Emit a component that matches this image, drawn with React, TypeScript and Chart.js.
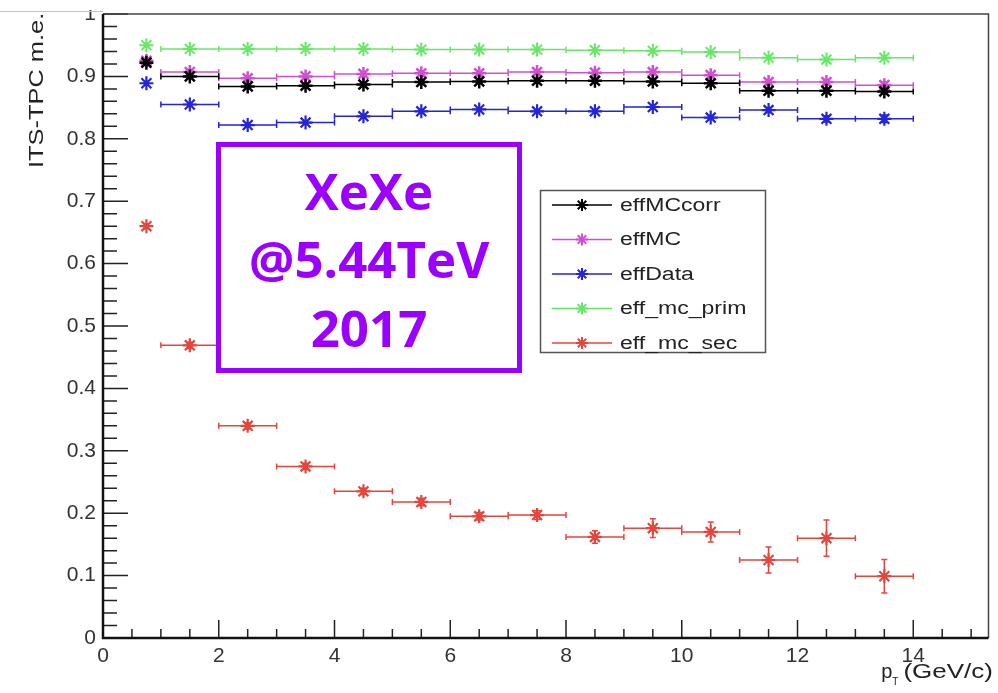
import React, { useEffect, useRef } from 'react';
import { Chart, registerables } from 'chart.js';

Chart.register(...registerables);

// pT bins (GeV/c): centres and half widths
const BIN_CENTERS = [0.75, 1.5, 2.5, 3.5, 4.5, 5.5, 6.5, 7.5, 8.5, 9.5, 10.5, 11.5, 12.5, 13.5];
const BIN_HALF_WIDTHS = [0, 0.5, 0.5, 0.5, 0.5, 0.5, 0.5, 0.5, 0.5, 0.5, 0.5, 0.5, 0.5, 0.5];

// ITS-TPC matching efficiency per bin
const EFF_MC_CORR = [0.922, 0.9, 0.884, 0.885, 0.887, 0.891, 0.892, 0.893, 0.893, 0.892, 0.889, 0.877, 0.877, 0.876];
const EFF_MC = [0.925, 0.907, 0.897, 0.9, 0.904, 0.905, 0.905, 0.907, 0.906, 0.907, 0.902, 0.891, 0.891, 0.886];
const EFF_DATA = [0.889, 0.855, 0.822, 0.826, 0.836, 0.844, 0.847, 0.844, 0.844, 0.851, 0.834, 0.846, 0.832, 0.832];
const EFF_MC_PRIM = [0.95, 0.944, 0.944, 0.944, 0.944, 0.943, 0.943, 0.943, 0.942, 0.941, 0.939, 0.93, 0.927, 0.93];
const EFF_MC_SEC = [0.66, 0.469, 0.34, 0.275, 0.235, 0.218, 0.195, 0.197, 0.162, 0.176, 0.17, 0.125, 0.16, 0.099];

// statistical uncertainties
const EFF_MC_CORR_ERR = [0, 0, 0, 0, 0, 0, 0, 0, 0, 0, 0, 0.003, 0.003, 0.004];
const EFF_MC_ERR = [0, 0, 0, 0, 0, 0, 0, 0, 0, 0, 0, 0.004, 0.004, 0.005];
const EFF_DATA_ERR = [0, 0, 0, 0, 0, 0, 0, 0, 0, 0, 0, 0.004, 0.005, 0.006];
const EFF_MC_PRIM_ERR = [0, 0, 0, 0, 0, 0, 0, 0, 0, 0, 0, 0, 0, 0];
const EFF_MC_SEC_ERR = [0.004, 0.005, 0.005, 0.005, 0.005, 0.006, 0.006, 0.007, 0.01, 0.015, 0.016, 0.021, 0.029, 0.027];

const SERIES_NAMES = ['effMCcorr', 'effMC', 'effData', 'eff_mc_prim', 'eff_mc_sec'];
const SERIES_COLORS = ['#000000', '#d24fd2', '#2424d8', '#66e866', '#e5463c'];
const SERIES_MARKER_WIDTHS = [2.5, 2.5, 2.2, 2, 2.2];

const X_TICK_VALUES = [0, 2, 4, 6, 8, 10, 12, 14];
const Y_TICK_VALUES = [0, 0.1, 0.2, 0.3, 0.4, 0.5, 0.6, 0.7, 0.8, 0.9, 1];

const Y_TITLE = 'ITS-TPC m.e.';
const X_TITLE_MAIN = 'p';
const X_TITLE_SUB = 'T';
const X_TITLE_UNIT = '(GeV/c)';
const ANNOTATION_LINES = ['XeXe', '@5.44TeV', '2017'];

const X_MIN = 0;
const X_MAX = 15.3;
const Y_MIN = 0;
const Y_MAX = 1;

const VALUES = [EFF_MC_CORR, EFF_MC, EFF_DATA, EFF_MC_PRIM, EFF_MC_SEC];
const ERRORS = [EFF_MC_CORR_ERR, EFF_MC_ERR, EFF_DATA_ERR, EFF_MC_PRIM_ERR, EFF_MC_SEC_ERR];

const ROOT_FONT = '"Liberation Sans", Arial, sans-serif';
const ANNOTATION_COLOR = '#9b00ff';

function drawStar(ctx: CanvasRenderingContext2D, x: number, y: number, r: number, color: string, width: number) {
  const d = r * Math.SQRT1_2;
  ctx.save();
  ctx.strokeStyle = color;
  ctx.lineWidth = width;
  ctx.beginPath();
  ctx.moveTo(x - r, y);
  ctx.lineTo(x + r, y);
  ctx.moveTo(x, y - r);
  ctx.lineTo(x, y + r);
  ctx.moveTo(x - d, y - d);
  ctx.lineTo(x + d, y + d);
  ctx.moveTo(x - d, y + d);
  ctx.lineTo(x + d, y - d);
  ctx.stroke();
  ctx.restore();
}

// Horizontal bin-width bars and vertical error bars, ROOT "E1" style with end caps
const errorBarPlugin = {
  id: 'errorBars',
  beforeDatasetsDraw(chart: any) {
    const ctx: CanvasRenderingContext2D = chart.ctx;
    const xs = chart.scales.x;
    const ys = chart.scales.y;
    const cap = 3;
    ctx.save();
    ctx.lineWidth = 1.5;
    for (let s = VALUES.length - 1; s >= 0; s--) {
      ctx.strokeStyle = SERIES_COLORS[s];
      ctx.beginPath();
      BIN_CENTERS.forEach((x, i) => {
        const y = VALUES[s][i];
        const py = ys.getPixelForValue(y);
        const hw = BIN_HALF_WIDTHS[i];
        if (hw > 0) {
          const x0 = xs.getPixelForValue(x - hw);
          const x1 = xs.getPixelForValue(x + hw);
          ctx.moveTo(x0, py);
          ctx.lineTo(x1, py);
          ctx.moveTo(x0, py - cap);
          ctx.lineTo(x0, py + cap);
          ctx.moveTo(x1, py - cap);
          ctx.lineTo(x1, py + cap);
        }
        const e = ERRORS[s][i];
        if (e > 0) {
          const px = xs.getPixelForValue(x);
          const y0 = ys.getPixelForValue(y - e);
          const y1 = ys.getPixelForValue(y + e);
          ctx.moveTo(px, y0);
          ctx.lineTo(px, y1);
          ctx.moveTo(px - cap, y0);
          ctx.lineTo(px + cap, y0);
          ctx.moveTo(px - cap, y1);
          ctx.lineTo(px + cap, y1);
        }
      });
      ctx.stroke();
    }
    ctx.restore();
  },
};

// Frame, inward tick marks, titles, legend box and the collision-system label
const decorationsPlugin = {
  id: 'rootDecorations',
  afterDraw(chart: any) {
    const ctx: CanvasRenderingContext2D = chart.ctx;
    const area = chart.chartArea;
    const xs = chart.scales.x;
    const ys = chart.scales.y;
    ctx.save();

    // tick marks drawn inside the frame
    ctx.strokeStyle = '#222';
    ctx.lineWidth = 1.5;
    ctx.beginPath();
    for (let k = 0; k * 0.5 <= X_MAX; k++) {
      const v = k * 0.5;
      const px = xs.getPixelForValue(v);
      const len = k % 4 === 0 ? 18 : 9;
      ctx.moveTo(px, area.bottom);
      ctx.lineTo(px, area.bottom - len);
    }
    for (let k = 0; k <= 50; k++) {
      const v = k * 0.02;
      const py = ys.getPixelForValue(v);
      const len = k % 5 === 0 ? 25 : 14;
      ctx.moveTo(area.left, py);
      ctx.lineTo(area.left + len, py);
    }
    ctx.stroke();

    // frame
    ctx.strokeStyle = '#444';
    ctx.lineWidth = 1.5;
    ctx.beginPath();
    ctx.moveTo(area.left, area.top);
    ctx.lineTo(area.right, area.top);
    ctx.lineTo(area.right, area.bottom);
    ctx.stroke();
    ctx.strokeStyle = '#111';
    ctx.lineWidth = 2.5;
    ctx.beginPath();
    ctx.moveTo(area.left, area.top);
    ctx.lineTo(area.left, area.bottom);
    ctx.lineTo(area.right, area.bottom);
    ctx.stroke();

    // y-axis title, aligned to the top end of the axis
    ctx.fillStyle = '#222';
    ctx.save();
    ctx.translate(43, 168);
    ctx.rotate(-Math.PI / 2);
    ctx.scale(1.21, 1);
    ctx.font = `21px ${ROOT_FONT}`;
    ctx.textAlign = 'left';
    ctx.textBaseline = 'alphabetic';
    ctx.fillText(Y_TITLE, 0, 0);
    ctx.restore();

    // x-axis title, right aligned
    ctx.save();
    ctx.font = `20px ${ROOT_FONT}`;
    ctx.textBaseline = 'alphabetic';
    const unitW = ctx.measureText(X_TITLE_UNIT).width * 1.3;
    const unitX = 993 - unitW;
    ctx.save();
    ctx.translate(unitX, 678);
    ctx.scale(1.3, 1);
    ctx.fillText(X_TITLE_UNIT, 0, 0);
    ctx.restore();
    ctx.font = `10px ${ROOT_FONT}`;
    const subW = ctx.measureText(X_TITLE_SUB).width;
    const subX = unitX - 5 - subW;
    ctx.fillText(X_TITLE_SUB, subX, 685);
    ctx.font = `20px ${ROOT_FONT}`;
    const pW = ctx.measureText(X_TITLE_MAIN).width;
    ctx.fillText(X_TITLE_MAIN, subX - pW, 678);
    ctx.restore();

    // legend
    const lx = 540;
    const ly = 190;
    const lw = 225;
    const lh = 162;
    ctx.fillStyle = '#ffffff';
    ctx.fillRect(lx, ly, lw, lh);
    ctx.strokeStyle = '#555';
    ctx.lineWidth = 1.5;
    ctx.strokeRect(lx + 0.5, ly + 0.5, lw, lh);
    SERIES_NAMES.forEach((name, i) => {
      const ey = 205 + i * 34.5;
      ctx.strokeStyle = SERIES_COLORS[i];
      ctx.lineWidth = 1.5;
      ctx.beginPath();
      ctx.moveTo(552, ey);
      ctx.lineTo(612, ey);
      ctx.stroke();
      drawStar(ctx, 582, ey, 6, SERIES_COLORS[i], 2);
      ctx.save();
      ctx.translate(620, ey);
      ctx.scale(1.28, 1);
      ctx.fillStyle = '#222';
      ctx.font = `18px ${ROOT_FONT}`;
      ctx.textAlign = 'left';
      ctx.textBaseline = 'middle';
      ctx.fillText(name, 0, 1);
      ctx.restore();
    });

    // collision system label
    ctx.strokeStyle = ANNOTATION_COLOR;
    ctx.lineWidth = 5;
    ctx.strokeRect(218.5, 144.5, 301, 226);
    ctx.fillStyle = ANNOTATION_COLOR;
    ctx.font = `bold 51px "Open Sans", sans-serif`;
    ctx.textAlign = 'center';
    ctx.textBaseline = 'alphabetic';
    const baselines = [210, 278, 347];
    ANNOTATION_LINES.forEach((line, i) => {
      ctx.fillText(line, 369, baselines[i]);
    });

    // page edge above the frame
    ctx.fillStyle = '#ffffff';
    ctx.fillRect(0, 0, chart.width, 10);
    ctx.strokeStyle = '#c4c4c4';
    ctx.lineWidth = 1;
    ctx.beginPath();
    ctx.moveTo(0, 11.5);
    ctx.lineTo(area.left, 11.5);
    ctx.stroke();

    ctx.restore();
  },
};

export default function App() {
  const canvasRef = useRef<HTMLCanvasElement | null>(null);

  useEffect(() => {
    const canvas = canvasRef.current;
    if (!canvas) return;

    const datasets = SERIES_NAMES.map((name, s) => ({
      label: name,
      data: BIN_CENTERS.map((x, i) => ({ x, y: VALUES[s][i] })),
      borderColor: SERIES_COLORS[s],
      backgroundColor: SERIES_COLORS[s],
      pointStyle: 'star' as const,
      pointRadius: 7,
      pointBorderWidth: SERIES_MARKER_WIDTHS[s],
      pointHoverRadius: 7,
      showLine: false,
    }));

    const tickFont = { family: ROOT_FONT, size: 21 };

    const chart = new Chart(canvas, {
      type: 'scatter',
      data: { datasets },
      options: {
        animation: false,
        responsive: false,
        maintainAspectRatio: false,
        devicePixelRatio: 1,
        layout: { padding: { top: 14, right: 7, left: 0, bottom: 0 } },
        plugins: {
          legend: { display: false },
          tooltip: { enabled: false },
        },
        scales: {
          x: {
            type: 'linear',
            min: X_MIN,
            max: X_MAX,
            grid: { display: false, drawTicks: false },
            border: { display: false },
            afterBuildTicks: (scale: any) => {
              scale.ticks = X_TICK_VALUES.map((value) => ({ value }));
            },
            afterFit: (scale: any) => {
              scale.height = 55;
              scale.paddingLeft = 0;
              scale.paddingRight = 0;
            },
            ticks: {
              autoSkip: false,
              maxRotation: 0,
              padding: 6,
              color: '#333',
              font: tickFont,
              callback: (v: any) => String(v),
            },
          },
          y: {
            type: 'linear',
            min: Y_MIN,
            max: Y_MAX,
            grid: { display: false, drawTicks: false },
            border: { display: false },
            afterBuildTicks: (scale: any) => {
              scale.ticks = Y_TICK_VALUES.map((value) => ({ value }));
            },
            afterFit: (scale: any) => {
              scale.width = 103;
              scale.paddingTop = 0;
              scale.paddingBottom = 0;
            },
            ticks: {
              autoSkip: false,
              padding: 7,
              color: '#333',
              font: tickFont,
              callback: (v: any) => {
                const n = Number(v);
                if (n === 0) return '0';
                if (n === 1) return '1';
                return n.toFixed(1);
              },
            },
          },
        },
      },
      plugins: [errorBarPlugin, decorationsPlugin],
    });

    return () => {
      chart.destroy();
    };
  }, []);

  return (
    <div style={{ position: 'absolute', left: 0, top: 0, width: 998, height: 693, background: '#ffffff' }}>
      <canvas ref={canvasRef} width={998} height={693} style={{ display: 'block' }} />
    </div>
  );
}
